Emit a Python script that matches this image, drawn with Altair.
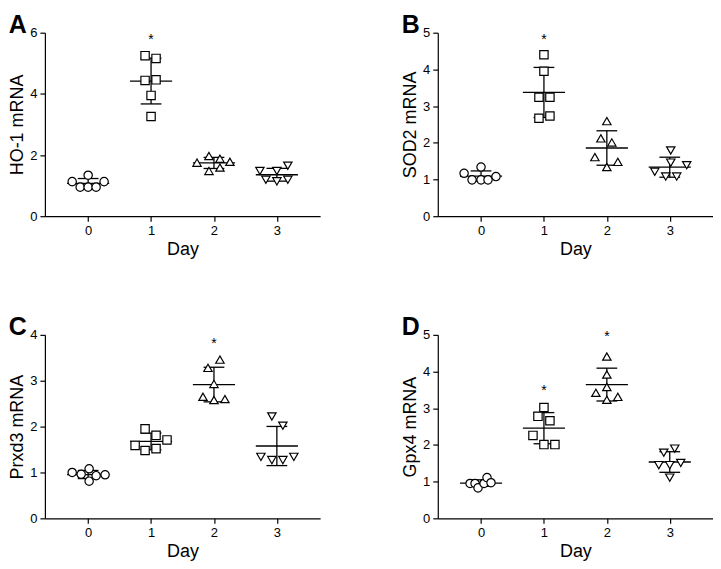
import altair as alt
import pandas as pd

days = [0, 1, 2, 3]
shapes = ["circle", "square", "triangle-up", "triangle-down"]

# values read per day (0,1,2,3)
ho1 = [[1.13, 1.34, 0.95, 0.95, 0.95, 1.13],
       [5.25, 5.16, 4.44, 4.46, 3.95, 3.26],
       [1.75, 1.97, 1.88, 1.78, 1.48, 1.59],
       [1.48, 1.48, 1.65, 1.19, 1.14, 1.19]]
sod2 = [[1.17, 1.34, 0.99, 0.99, 0.99, 1.08],
        [4.40, 3.95, 3.24, 3.24, 2.67, 2.73],
        [2.59, 2.12, 2.01, 1.61, 1.48, 1.34],
        [1.79, 1.46, 1.39, 1.21, 1.08, 1.08]]
prxd3 = [[1.00, 0.96, 1.08, 0.81, 0.93, 0.95],
         [1.95, 1.81, 1.71, 1.59, 1.48, 1.52],
         [3.46, 3.28, 2.93, 2.65, 2.58, 2.60],
         [2.22, 2.02, 1.34, 1.27, 1.27, 1.34]]
gpx4 = [[0.95, 0.95, 0.83, 0.95, 1.11, 0.97],
        [3.02, 2.78, 2.66, 2.26, 2.01, 2.01],
        [4.41, 3.92, 3.58, 3.42, 3.31, 3.23],
        [1.79, 1.90, 1.45, 1.45, 1.51, 1.11]]

# horizontal scatter of each point (in pixels)
ho1_jit = [[-16, 0, -8, 0, 8, 16], [-6, 5, -6, 5, 0, 0],
           [-17, -5, 6, 16, -5, 6], [-17, 0, 11, -11, 0, 11]]
sod2_jit = [[-17, 0, -9, 0, 7, 15], [0, 0, -5, 6, -5, 6],
            [0, -6, 5, -12, 11, 0], [1, 1, 17, -15, -4, 7]]
prxd3_jit = [[-16, -7, 1, 1, 8, 17], [-6, 5, 16, -16, -6, 5],
             [6, -6, 0, -11, 0, 11], [-5, 6, -16, -5, 6, 17]]
gpx4_jit = [[-11, -6, -3, 3, 6, 10], [0, -6, 6, -11, 0, 11],
            [0, 0, 0, -11, 11, 0], [-6, 5, -11, 0, 11, 0]]

# significance stars: (day, height)
ho1_star = [(1, 5.77)]
sod2_star = [(1, 4.80)]
prxd3_star = [(2, 3.81)]
gpx4_star = [(1, 3.47), (2, 4.93)]

FONT = "Liberation Sans"
W, H = 276, 184
XDOM = [-0.6875, 3.6875]
PX_PER_DAY = W / (XDOM[1] - XDOM[0])


def panel(letter, ytitle, vals, jit, stars, ymax, ystep):
    rows = []
    for d, vs, js in zip(days, vals, jit):
        for v, j in zip(vs, js):
            rows.append({"day": d, "x": d + j / PX_PER_DAY, "value": v})
    df = pd.DataFrame(rows)
    sdf = pd.DataFrame([{"day": d, "h": h, "s": "*"} for d, h in stars])

    xscale = alt.Scale(domain=XDOM, nice=False, zero=False)
    xaxis = alt.Axis(values=days, format="d", title="Day")
    yscale = alt.Scale(domain=[0, ymax], nice=False)
    yaxis = alt.Axis(values=list(range(0, ymax + 1, ystep)), title=ytitle)

    def X(f):
        return alt.X(f, type="quantitative", scale=xscale, axis=xaxis)

    def Y(f):
        return alt.Y(f, type="quantitative", scale=yscale, axis=yaxis)

    base = alt.Chart(df)
    stats = base.transform_aggregate(
        m="mean(value)", sd="stdev(value)", groupby=["day"]
    ).transform_calculate(
        lo="datum.m - datum.sd", hi="datum.m + datum.sd",
        ml="datum.day - 0.335", mr="datum.day + 0.335",
        cl="datum.day - 0.165", cr="datum.day + 0.165",
    )
    rule_kw = dict(color="black", strokeWidth=1.3)
    vline = stats.mark_rule(**rule_kw).encode(x=X("day"), y=Y("lo"), y2="hi:Q")
    mline = stats.mark_rule(**rule_kw).encode(x=X("ml"), x2="mr:Q", y=Y("m"))
    ctop = stats.mark_rule(**rule_kw).encode(x=X("cl"), x2="cr:Q", y=Y("hi"))
    cbot = stats.mark_rule(**rule_kw).encode(x=X("cl"), x2="cr:Q", y=Y("lo"))
    pts = base.mark_point(filled=False, fill="white", fillOpacity=1,
                          stroke="black", strokeWidth=1.2, size=70, opacity=1).encode(
        x=X("x"), y=Y("value"),
        shape=alt.Shape("day:N", scale=alt.Scale(domain=days, range=shapes), legend=None),
    )
    star = alt.Chart(sdf).mark_text(fontSize=14, font=FONT, baseline="middle", color="black").encode(
        x=X("day"), y=Y("h"), text="s:N"
    )
    return alt.layer(vline, mline, ctop, cbot, pts, star).properties(
        width=W, height=H,
        title=alt.TitleParams(letter, anchor="start", fontSize=25, fontWeight="bold",
                              font=FONT, color="black", offset=-8, dy=3),
    )


A = panel("A", "HO-1 mRNA", ho1, ho1_jit, ho1_star, 6, 2)
B = panel("B", "SOD2 mRNA", sod2, sod2_jit, sod2_star, 5, 1)
C = panel("C", "Prxd3 mRNA", prxd3, prxd3_jit, prxd3_star, 4, 1)
D = panel("D", "Gpx4 mRNA", gpx4, gpx4_jit, gpx4_star, 5, 1)

chart = alt.concat(A, B, C, D, columns=2, spacing={"row": 57, "column": 81}).properties(
    padding={"top": 4, "left": 0, "right": 0, "bottom": 0}
).configure_view(stroke=None).configure_axis(
    grid=False, domainColor="black", tickColor="black", labelColor="black",
    titleColor="black", labelFont=FONT, titleFont=FONT, labelFontSize=13,
    titleFontSize=18, titleFontWeight="normal", tickSize=5, labelPadding=3,
    domainWidth=1.2, tickWidth=1.2,
).configure_axisY(titlePadding=3).configure_axisX(titlePadding=3)

chart.save("out.html", embed_options={"renderer": "svg", "actions": False})
